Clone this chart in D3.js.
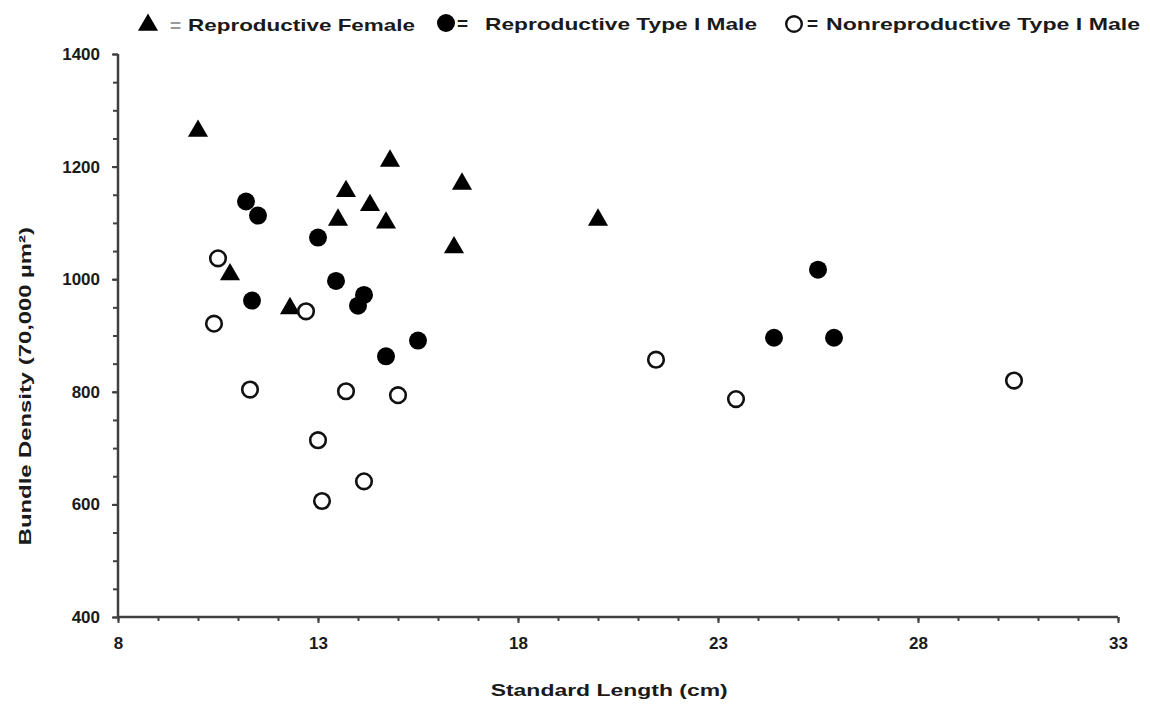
<!DOCTYPE html>
<html>
<head>
<meta charset="utf-8">
<script src="https://cdn.jsdelivr.net/npm/d3@7"></script>
<style>
  html, body { margin: 0; padding: 0; background: #fff; }
  svg { display: block; }
  text { font-family: "Liberation Sans", Arial, sans-serif; font-weight: bold; fill: #1a1a1a; }
</style>
</head>
<body>
<svg id="chart" width="1150" height="705"></svg>
<script>
// ---- data (Standard Length cm, Bundle Density) ----
const femaleX = [10.0, 10.8, 12.3, 13.5, 13.7, 14.3, 14.7, 14.8, 16.4, 16.6, 20.0];
const femaleY = [1265, 1010, 950, 1107, 1158, 1133, 1102, 1212, 1058, 1171, 1107];

const repMaleX = [11.2, 11.5, 13.0, 11.35, 13.45, 14.0, 14.15, 14.7, 15.5, 24.4, 25.5, 25.9];
const repMaleY = [1138, 1113, 1074, 962, 997, 953, 972, 863, 891, 896, 1017, 896];

const nonrepMaleX = [10.5, 10.4, 11.3, 12.7, 13.0, 13.1, 13.7, 14.15, 15.0, 21.45, 23.45, 30.4];
const nonrepMaleY = [1037, 921, 804, 943, 714, 606, 801, 641, 794, 857, 787, 820];

const xTicks = [8, 13, 18, 23, 28, 33];
const yTicks = [400, 600, 800, 1000, 1200, 1400];

const legendLabels = ["Reproductive Female", "Reproductive Type I Male", "Nonreproductive Type I Male"];
const xTitle = "Standard Length (cm)";
const yTitle = "Bundle Density (70,000 µm²)";

// ---- drawing ----
const svg = d3.select("#chart");
const x = d3.scaleLinear().domain([8, 33]).range([118, 1118]);
const y = d3.scaleLinear().domain([400, 1400]).range([617, 54]);
const axisColor = "#404040";

const xMinor = d3.range(8, 33.001, 1);
const yMinor = d3.range(400, 1400.001, 50);

function styleTickText(sel) {
  sel.selectAll(".tick text")
    .attr("font-size", 17)
    .attr("font-family", "Liberation Sans, Arial, sans-serif")
    .attr("font-weight", "bold")
    .attr("fill", "#1a1a1a");
}

const gx = svg.append("g").attr("transform", `translate(0,${y(400)})`);
gx.call(d3.axisBottom(x).tickValues(xMinor).tickSize(4).tickFormat(""));
gx.select(".domain").remove();
gx.selectAll(".tick line").attr("stroke", axisColor).attr("stroke-width", 2);
const gx2 = svg.append("g").attr("transform", `translate(0,${y(400)})`);
gx2.call(d3.axisBottom(x).tickValues(xTicks).tickSize(6).tickPadding(14).tickFormat(d3.format("d")));
gx2.select(".domain").remove();
gx2.selectAll(".tick line").attr("stroke", axisColor).attr("stroke-width", 2);
styleTickText(gx2);
gx2.selectAll(".tick text").attr("textLength", function() { return null; });

const gy = svg.append("g").attr("transform", `translate(${x(8)},0)`);
gy.call(d3.axisLeft(y).tickValues(yMinor).tickSize(5).tickFormat(""));
gy.select(".domain").remove();
gy.selectAll(".tick line").attr("stroke", axisColor).attr("stroke-width", 2);
const gy2 = svg.append("g").attr("transform", `translate(${x(8)},0)`);
gy2.call(d3.axisLeft(y).tickValues(yTicks).tickSize(6).tickPadding(12).tickFormat(d3.format("d")));
gy2.select(".domain").remove();
gy2.selectAll(".tick line").attr("stroke", axisColor).attr("stroke-width", 2);
styleTickText(gy2);

// axis lines
svg.append("line").attr("x1", x(8)).attr("x2", x(33)).attr("y1", y(400)).attr("y2", y(400))
  .attr("stroke", axisColor).attr("stroke-width", 2.5);
svg.append("line").attr("x1", x(8)).attr("x2", x(8)).attr("y1", y(400)).attr("y2", y(1400))
  .attr("stroke", axisColor).attr("stroke-width", 2.5);

// axis titles
svg.append("text").attr("x", x(20.28)).attr("y", 696).attr("text-anchor", "middle")
  .attr("font-size", 17).attr("textLength", 237).attr("lengthAdjust", "spacingAndGlyphs").text(xTitle);
svg.append("text").attr("transform", `translate(31,${y(810)}) rotate(-90)`).attr("text-anchor", "middle")
  .attr("font-size", 17).attr("textLength", 318).attr("lengthAdjust", "spacingAndGlyphs").text(yTitle);

// markers
const tri = d3.symbol().type(d3.symbolTriangle).size(175);
svg.append("g").selectAll("path").data(d3.zip(femaleX, femaleY)).join("path")
  .attr("d", tri).attr("transform", d => `translate(${x(d[0])},${y(d[1]) + 1})`).attr("fill", "#000");
svg.append("g").selectAll("circle").data(d3.zip(repMaleX, repMaleY)).join("circle")
  .attr("cx", d => x(d[0])).attr("cy", d => y(d[1])).attr("r", 9).attr("fill", "#000");
svg.append("g").selectAll("circle").data(d3.zip(nonrepMaleX, nonrepMaleY)).join("circle")
  .attr("cx", d => x(d[0])).attr("cy", d => y(d[1])).attr("r", 7.8)
  .attr("fill", "#fff").attr("stroke", "#111").attr("stroke-width", 2.6);

// legend
const lg = svg.append("g");
lg.append("path").attr("d", tri).attr("transform", "translate(148,25)").attr("fill", "#000");
lg.append("text").attr("x", 170).attr("y", 32).attr("font-size", 19).style("fill", "#999").text("=");
lg.append("text").attr("x", 188).attr("y", 31).attr("font-size", 17).attr("textLength", 227).attr("lengthAdjust", "spacingAndGlyphs").text(legendLabels[0]);

lg.append("circle").attr("cx", 446).attr("cy", 23).attr("r", 9).attr("fill", "#000");
lg.append("text").attr("x", 457).attr("y", 30).attr("font-size", 19).text("=");
lg.append("text").attr("x", 485).attr("y", 30).attr("font-size", 17).attr("textLength", 272).attr("lengthAdjust", "spacingAndGlyphs").text(legendLabels[1]);

lg.append("circle").attr("cx", 794).attr("cy", 24).attr("r", 7.8).attr("fill", "#fff").attr("stroke", "#111").attr("stroke-width", 2.4);
lg.append("text").attr("x", 807).attr("y", 30).attr("font-size", 19).text("=");
lg.append("text").attr("x", 826).attr("y", 30).attr("font-size", 17).attr("textLength", 314).attr("lengthAdjust", "spacingAndGlyphs").text(legendLabels[2]);
</script>
</body>
</html>
